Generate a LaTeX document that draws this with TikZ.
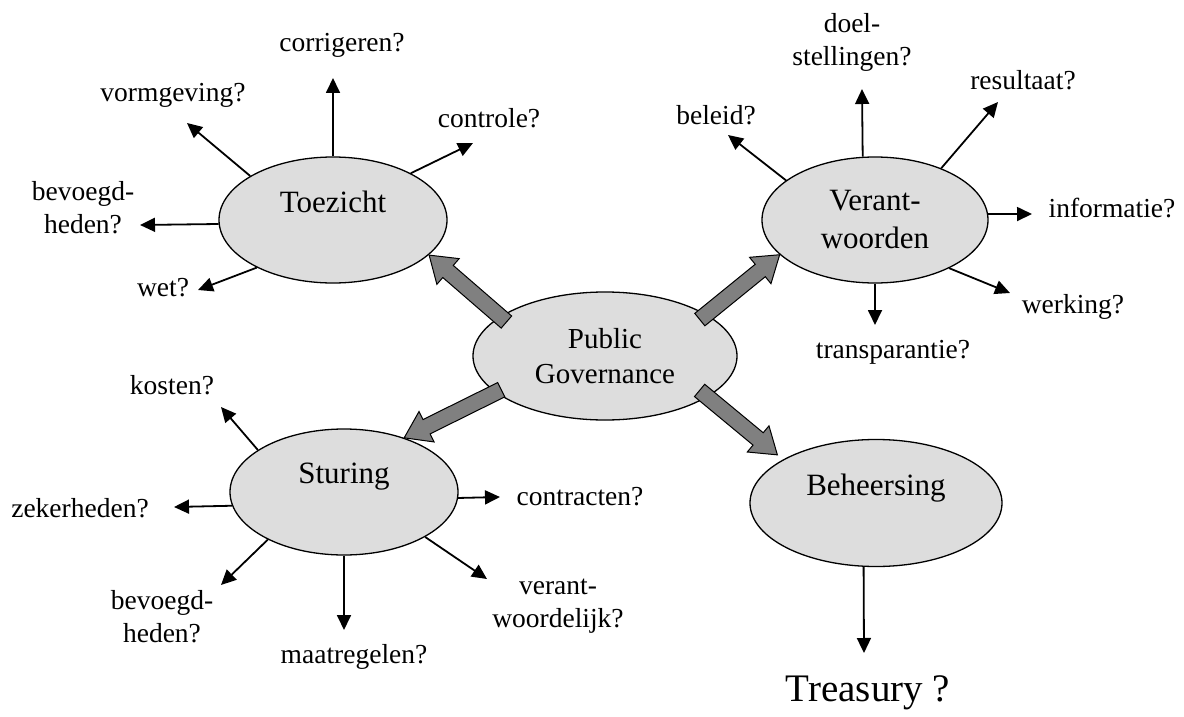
\documentclass[tikz,border=0pt]{standalone}
\usepackage{fontspec}
\setmainfont{Liberation Serif}
\usetikzlibrary{shapes.geometric,arrows.meta,calc}
\definecolor{nodegray}{HTML}{DDDDDD}
\definecolor{fatgray}{HTML}{808080}
\tikzset{
  mainnode/.style={ellipse, draw=black, line width=1.3pt, fill=nodegray, inner sep=0pt, align=center, font=\fontsize{31}{38}\selectfont},
  lbl/.style={inner sep=0pt, align=center, font=\fontsize{27.5}{33}\selectfont},
  sarr/.style={line width=1.8pt, -{Triangle[length=15pt,width=14pt]}},
  fatstyle/.style={draw=black, line width=1pt, fill=fatgray, line join=miter},
}
\newcommand\fatarrow[2]{%
  \path let \p1=($(#2)-(#1)$), \n1={atan2(\y1,\x1)}, \n2={veclen(\x1,\y1)} in
    \pgfextra{\xdef\fatang{\n1}\xdef\fatlen{\n2}};
  \filldraw[fatstyle, shift={(#1)}, rotate=\fatang]
    (0pt,-8pt) -- ({\fatlen-25pt},-8pt) -- ({\fatlen-25pt},-17pt) -- ({\fatlen},0pt)
    -- ({\fatlen-25pt},17pt) -- ({\fatlen-25pt},8pt) -- (0pt,8pt) -- cycle;
}
\begin{document}
\begin{tikzpicture}[x=1pt,y=-1pt]
\useasboundingbox (0,0) rectangle (1184,717);

% main nodes
\node[mainnode, minimum width=264pt, minimum height=128pt, font=\fontsize{29}{35}\selectfont] (pg) at (605,356) {Public\\Governance};
\node[mainnode, minimum width=228pt, minimum height=126pt] (toe) at (333,220) {Toezicht\\[-12pt]\strut};
\node[mainnode, minimum width=226pt, minimum height=126pt] (ver) at (875,220) {Verant-\\woorden};
\node[mainnode, minimum width=228pt, minimum height=126pt] (stu) at (344,492) {Sturing\\[-12pt]\strut};
\node[mainnode, minimum width=252pt, minimum height=127pt] (beh) at (876,503) {Beheersing\\[-12pt]\strut};

% fat arrows
\coordinate (f1s) at ($(pg.center)!0.91!(pg.161)$);
\coordinate (f1e) at (toe.-20);
\coordinate (f2s) at ($(pg.center)!0.91!(pg.21)$);
\coordinate (f2e) at (ver.200);
\coordinate (f3s) at ($(pg.center)!0.94!(pg.198)$);
\coordinate (f3e) at (stu.42);
\coordinate (f4s) at ($(pg.center)!0.89!(pg.-20)$);
\coordinate (f4e) at ($(beh.center)!1.08!(beh.154)$);
\fatarrow{f1s}{f1e}
\fatarrow{f2s}{f2e}
\fatarrow{f3s}{f3e}
\fatarrow{f4s}{f4e}

% Toezicht branches
\coordinate (t1) at (333,78);
\coordinate (t2) at (187,123);
\coordinate (t3) at (473,143);
\coordinate (t4) at (140,225);
\coordinate (t5) at (198,290);
\draw[sarr] (toe.90) -- (t1);
\draw[sarr] (toe.152) -- (t2);
\draw[sarr] (toe.31) -- (t3);
\draw[sarr] (toe.182) -- (t4);
\draw[sarr] (toe.212) -- (t5);
\node[lbl] (lcorr) at (342,45) {corrigeren?};
\node[lbl] (lvorm) at (173,95) {vormgeving?};
\node[lbl] (lcont) at (489,118) {controle?};
\node[lbl] (lbev1) at (83,208) {bevoegd-\\heden?};
\node[lbl] (lwet) at (163,288) {wet?};

% Verantwoorden branches
\coordinate (v1) at (862,89);
\coordinate (v2) at (728,135);
\coordinate (v3) at (998,102);
\coordinate (v4) at (1032,214);
\coordinate (v5) at (1010,293);
\coordinate (v6) at (875,325);
\draw[sarr] (ver.101.7) -- (v1);
\draw[sarr] (ver.156) -- (v2);
\draw[sarr] (ver.38) -- (v3);
\draw[sarr] (ver.3) -- (v4);
\draw[sarr] (ver.-33) -- (v5);
\draw[sarr] (ver.270) -- (v6);
\node[lbl] (ldoel) at (852,42) {doel-\\stellingen?};
\node[lbl] (lbel) at (716,115) {beleid?};
\node[lbl] (lres) at (1023,80) {resultaat?};
\node[lbl] (linf) at (1112,208) {informatie?};
\node[lbl] (lwerk) at (1073,307) {werking?};
\node[lbl] (ltrans) at (893,352) {transparantie?};

% Sturing branches
\coordinate (s1) at (221,407);
\coordinate (s2) at (174,507);
\coordinate (s3) at (500,497);
\coordinate (s4) at (221,585);
\coordinate (s5) at (344,630);
\coordinate (s6) at (487,579);
\draw[sarr] (stu.154) -- (s1);
\draw[sarr] (stu.187.5) -- (s2);
\draw[sarr] (stu.357.5) -- (s3);
\draw[sarr] (stu.212) -- (s4);
\draw[sarr] (stu.270) -- (s5);
\draw[sarr] (stu.-29) -- (s6);
\node[lbl] (lkost) at (172,385) {kosten?};
\node[lbl] (lzek) at (80,508) {zekerheden?};
\node[lbl] (lcontr) at (580,497) {contracten?};
\node[lbl] (lbev2) at (162,617) {bevoegd-\\heden?};
\node[lbl] (lmaat) at (354,657) {maatregelen?};
\node[lbl] (lverant) at (558,606) {verant-\\woordelijk?};

% Beheersing branch
\coordinate (b1) at (864,653);
\draw[sarr] (beh.259.4) -- (b1);
\node[inner sep=0pt, font=\fontsize{39}{46}\selectfont] (ltreas) at (868,693) {Treasury ?};
\end{tikzpicture}
\end{document}
